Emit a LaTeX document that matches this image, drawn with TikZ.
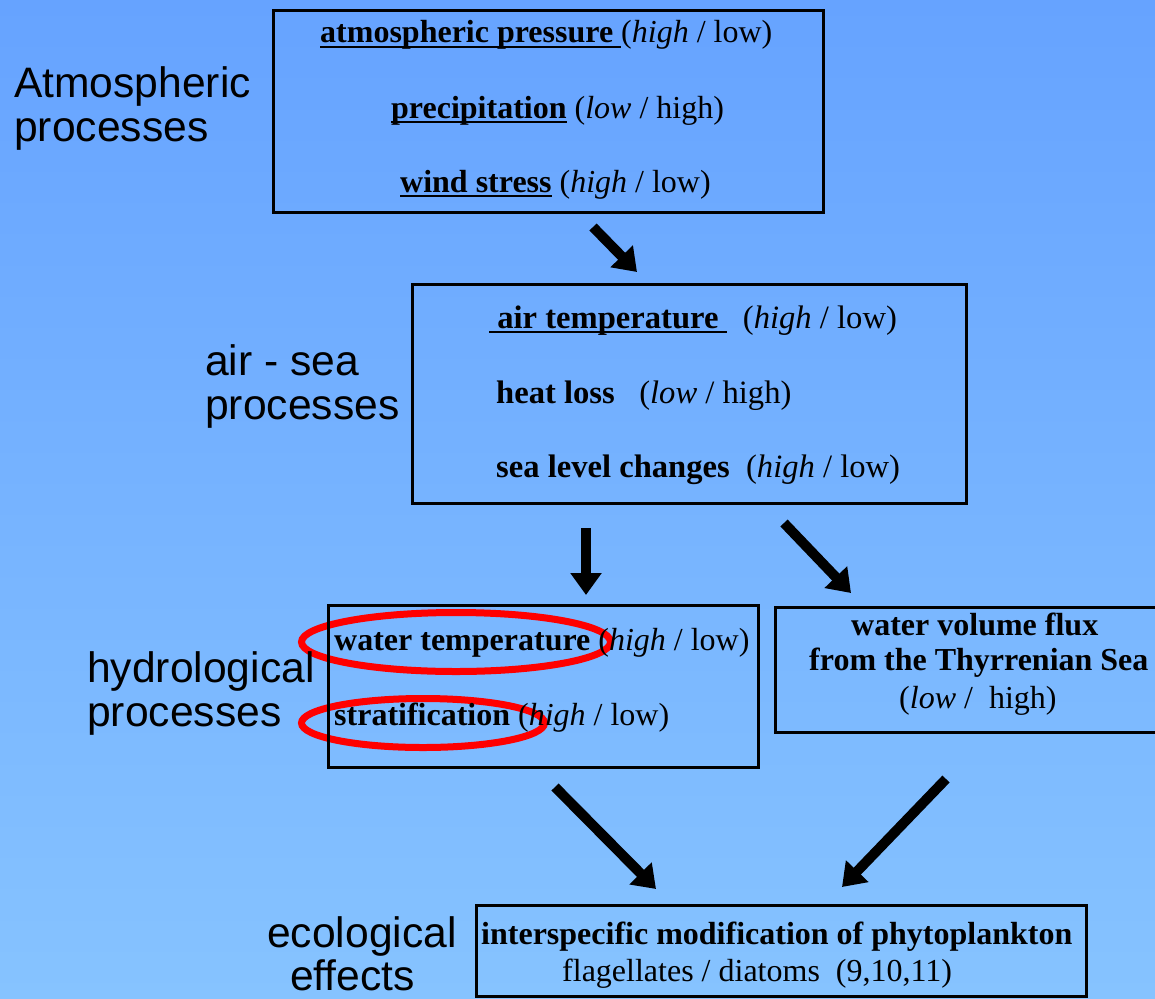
\documentclass[tikz,border=0pt]{standalone}
\usepackage{fontspec}
\setmainfont{Liberation Serif}
\newfontfamily\sansf{Liberation Sans}
\usetikzlibrary{arrows.meta}
\newcommand\ulx[1]{\sbox0{#1}\rlap{\rule[-5pt]{\wd0}{2pt}}\usebox0}
\definecolor{bgtop}{RGB}{102,163,255}
\definecolor{bgbot}{RGB}{134,195,255}
\begin{document}
\begin{tikzpicture}[x=1pt,y=-1pt,
  txt/.style={anchor=base west, inner sep=0pt, font=\fontsize{32}{36}\selectfont},
  txtb/.style={anchor=base west, inner sep=0pt, font=\fontsize{32.6}{36}\selectfont},
  lbl/.style={anchor=base west, inner sep=0pt, font=\sansf\fontsize{42.6}{44}\selectfont},
  box/.style={draw=black, line width=3pt, anchor=north west, inner sep=0pt},
  bigarrow/.style={line width=10pt, -{Triangle[width=30pt,length=22pt]}},
  redring/.style={draw=red, line width=7pt}]
\shade[top color=bgtop, bottom color=bgbot] (0,0) rectangle (1155,998);
\useasboundingbox (0,0) rectangle (1155,998);

% red ellipses (under text and borders)
\draw[redring] (456,642) ellipse [x radius=154.5, y radius=29.5];
\draw[redring] (423,723) ellipse [x radius=121.5, y radius=24.5];

% boxes
\node[box, minimum width=550pt, minimum height=202pt] (b1) at (272,9) {};
\node[box, minimum width=554pt, minimum height=219pt] (b2) at (411,283) {};
\node[box, minimum width=430pt, minimum height=162pt] (b3) at (327,604) {};
\node[box, minimum width=400pt, minimum height=125pt] (b4) at (774,606) {};
\node[box, minimum width=610pt, minimum height=91pt] (b5) at (475,904) {};

% side labels
\node[lbl] (l1a) at (14,97) {Atmospheric};
\node[lbl] (l1b) at (14,141) {processes};
\node[lbl] (l2a) at (205,375) {air - sea};
\node[lbl] (l2b) at (205,419) {processes};
\node[lbl] (l3a) at (87,682) {hydrological};
\node[lbl] (l3b) at (87,726) {processes};
\node[lbl] (l4a) at (267,947) {ecological};
\node[lbl] (l4b) at (290,990) {effects};

% box 1 text
\node[txt] (t11) at (320,43) {\ulx{\textbf{atmospheric pressure }}(\textit{high} / low)};
\node[txt] (t12) at (391,118) {\ulx{\textbf{precipitation}} (\textit{low} / high)};
\node[txt] (t13) at (400,192) {\ulx{\textbf{wind stress}} (\textit{high} / low)};

% box 2 text
\node[txtb] (t21) at (489,328) {\ulx{\textbf{ air temperature }}\ \ (\textit{high} / low)};
\node[txtb] (t22) at (496,403) {\textbf{heat loss}\ \ \ (\textit{low} / high)};
\node[txtb] (t23) at (496,477) {\textbf{sea level changes}\ \ (\textit{high} / low)};

% box 3 text
\node[txt] (t31) at (334,650) {\textbf{water temperature} (\textit{high} / low)};
\node[txt] (t32) at (334,725) {\textbf{stratification} (\textit{high} / low)};

% box 4 text
\node[txt] (t41) at (851,635) {\textbf{water volume flux}};
\node[txt] (t42) at (809,670) {\textbf{from the Thyrrenian Sea}};
\node[txt] (t43) at (899,708) {(\textit{low} /\ \ high)};

% box 5 text
\node[txt] (t51) at (481,944) {\textbf{interspecific modification of phytoplankton}};
\node[txt] (t52) at (562,981) {flagellates / diatoms\ \ (9,10,11)};

% arrows
\coordinate (a1s) at (593,227); \coordinate (a1e) at (637,272);
\coordinate (a2s) at (586,528); \coordinate (a2e) at (586,595);
\coordinate (a3s) at (784,523); \coordinate (a3e) at (851,593);
\coordinate (a4s) at (555,787); \coordinate (a4e) at (656,889);
\coordinate (a5s) at (946,779); \coordinate (a5e) at (842,887);
\draw[bigarrow] (a1s) -- (a1e);
\draw[bigarrow] (a2s) -- (a2e);
\draw[bigarrow] (a3s) -- (a3e);
\draw[bigarrow] (a4s) -- (a4e);
\draw[bigarrow] (a5s) -- (a5e);
\end{tikzpicture}
\end{document}
